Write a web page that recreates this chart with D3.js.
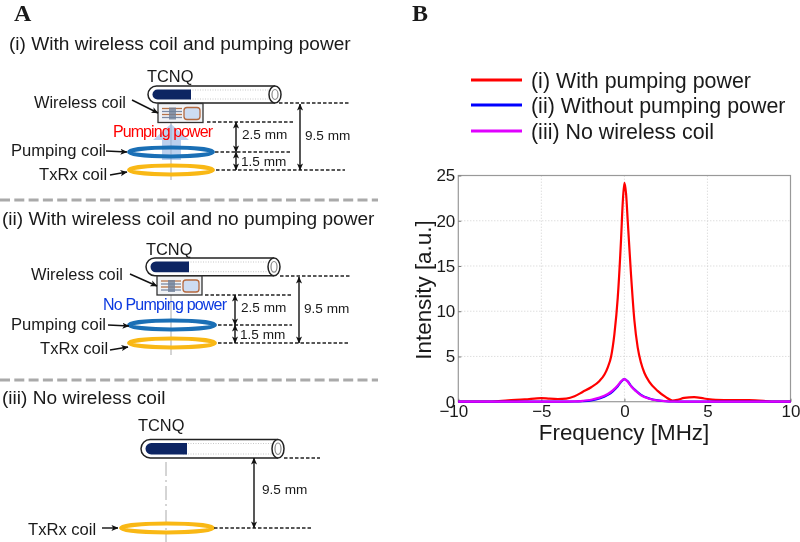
<!DOCTYPE html>
<html><head><meta charset="utf-8">
<script src="https://cdnjs.cloudflare.com/ajax/libs/d3/7.8.5/d3.min.js"></script>
<style>html,body{margin:0;background:#fff}svg{display:block;filter:blur(0.35px)}text{font-family:"Liberation Sans",Arial,sans-serif;fill:#1a1a1a}</style>
</head><body><svg id="c" width="800" height="542"></svg>
<script>
const xTicks=[-10,-5,0,5,10];
const yTicks=[0,5,10,15,20,25];
const redX=[-10,-8,-7,-6,-5,-4.5,-4,-3.5,-3,-2.5,-2,-1.5,-1.2,-1,-0.8,-0.6,-0.4,-0.2,-0.1,0,0.1,0.2,0.4,0.6,0.8,1,1.2,1.5,2,2.5,2.9,3.2,3.6,4.2,4.8,5.5,6.5,7.5,8.5,9,10];
const redY=[0,0.02,0.15,0.25,0.4,0.33,0.3,0.35,0.6,1.1,1.6,2.3,3,3.8,5,7.5,11.5,18,22,24.2,23,20,14,9,6,4.3,3.2,2.2,1.2,0.5,0.12,0.2,0.42,0.5,0.35,0.2,0.18,0.18,0.08,0,0];
const lowX=[-10,-4,-3,-2.5,-2,-1.5,-1,-0.7,-0.4,-0.2,0,0.2,0.4,0.7,1,1.5,2,2.5,3,4,10];
const blueY=[0,0,0.02,0.06,0.15,0.35,0.75,1.15,1.7,2.2,2.5,2.25,1.75,1.2,0.75,0.35,0.15,0.05,0.02,0,0];
const magY=[0,0,0.03,0.1,0.22,0.45,0.85,1.25,1.8,2.25,2.5,2.2,1.7,1.15,0.7,0.32,0.13,0.05,0.02,0,0];
const legendLabels=["(i) With pumping power","(ii) Without pumping power","(iii) No wireless coil"];
const legendColors=["#ff0000","#0000ff","#e000ff"];
const svg=d3.select("#c");
function T(x,y,s,size,o={}){const t=svg.append("text").attr("x",x).attr("y",y).attr("font-size",size).text(s);
 for(const k in o)t.attr(k,o[k]);return t;}
function L(x1,y1,x2,y2,c="#222",w=1.3,d=null){return svg.append("line").attr("x1",x1).attr("y1",y1).attr("x2",x2).attr("y2",y2).attr("stroke",c).attr("stroke-width",w).attr("stroke-dasharray",d);}
const defs=svg.append("defs");
defs.append("marker").attr("id","ah").attr("viewBox","0 0 8 8").attr("refX",7.5).attr("refY",4).attr("markerWidth",7).attr("markerHeight",7).attr("markerUnits","userSpaceOnUse").attr("orient","auto-start-reverse")
 .append("path").attr("d","M0,0.5L8,4L0,7.5L2,4Z").attr("fill","#111");
function Arrow(x1,y1,x2,y2,both){const l=L(x1,y1,x2,y2,"#111",1.4).attr("marker-end","url(#ah)");if(both)l.attr("marker-start","url(#ah)");return l;}
const DASH="3.5,2";
function tube(x0,x1,y0,y1,navyEnd){
 const r=(y1-y0)/2;
 svg.append("path").attr("d",`M${x1-6},${y0}L${x0+r},${y0}A${r},${r} 0 0 0 ${x0+r},${y1}L${x1-6},${y1}`).attr("fill","#fff").attr("stroke","#222").attr("stroke-width",1.5);
 L(x0+42,y0+4,x1-12,y0+4,"#bbb",.8,"1,1.5");L(x0+42,y1-4,x1-12,y1-4,"#bbb",.8,"1,1.5");
 svg.append("path").attr("d",`M${navyEnd},${y0+3.5}L${x0+r+1},${y0+3.5}A${r-3.5},${r-3.5} 0 0 0 ${x0+r+1},${y1-3.5}L${navyEnd},${y1-3.5}Z`).attr("fill","#0d2563");
 svg.append("ellipse").attr("cx",x1-6).attr("cy",(y0+y1)/2).attr("rx",6).attr("ry",r).attr("fill","#fff").attr("stroke","#222").attr("stroke-width",1.5);
 svg.append("ellipse").attr("cx",x1-6).attr("cy",(y0+y1)/2).attr("rx",3).attr("ry",r-3.5).attr("fill","#fff").attr("stroke","#888").attr("stroke-width",1.2);
}
function coil(cx,cy,rx,c,w=4){svg.append("ellipse").attr("cx",cx).attr("cy",cy).attr("rx",rx).attr("ry",4.4).attr("fill","none").attr("stroke",c).attr("stroke-width",w);}
function chip(x,y){
 svg.append("rect").attr("x",x).attr("y",y).attr("width",45).attr("height",19).attr("fill","#f1f3f6").attr("stroke","#333").attr("stroke-width",1.3);
 [5,8,11,14].forEach(d=>L(x+4,y+d,x+24,y+d,d%2?"#b5734a":"#7b8aa5",1.3));
 svg.append("rect").attr("x",x+11).attr("y",y+4).attr("width",7).attr("height",12).attr("fill","#6f7f99").attr("opacity",.8);
 svg.append("rect").attr("x",x+26).attr("y",y+4).attr("width",16).attr("height",12).attr("rx",3).attr("fill","#cddcf2").attr("stroke","#b5693f").attr("stroke-width",1.3);
}
T(14,21,"A",24,{style:"font-family:'Liberation Serif'","font-weight":"bold"});
T(412,21,"B",24,{style:"font-family:'Liberation Serif'","font-weight":"bold"});
const sep=[200,380];
sep.forEach(y=>L(0,y,378,y,"#aaa",3,"10,4.3"));
// panel (i)
T(9,50,"(i) With wireless coil and pumping power",19.1);
L(171,122,171,180,"#aaa",1);
svg.append("path").attr("d","M162,140L162,160L181,160L181,140L189,140L171,124L153,140Z").attr("fill","#8fb0e3").attr("opacity",.6);
tube(148,281,86,103,191);
chip(158,103.5);
T(147,82,"TCNQ",16.4);
T(34,108,"Wireless coil",16.4);
Arrow(132,100,158,113);
T(113,137,"Pumping power",16,{style:"fill:#ff0000",textLength:100});
coil(171,152,42,"#1a6fb5");coil(171,170,42,"#f9b815");
T(11,156,"Pumping coil",16.6);T(39,180,"TxRx coil",16.6);
Arrow(106,151,127,152);Arrow(110,175,127,172);
L(207,122,294,122,"#222",1.4,DASH);L(215,152,290,152,"#222",1.4,DASH);L(216,170,345,170,"#222",1.4,DASH);L(279,103,350,103,"#222",1.4,DASH);
Arrow(236,122,236,152,true);Arrow(236,152,236,170,true);Arrow(300,104,300,170,true);
T(242,139,"2.5 mm",13.6);T(241,166,"1.5 mm",13.6);T(305,140,"9.5 mm",13.6);
// panel (ii)
T(2,225,"(ii) With wireless coil and no pumping power",19.1);
L(171,295,171,355,"#aaa",1);
tube(146,280,258,275.7,189);
chip(157,276);
T(146,255,"TCNQ",16.4);
T(31,280,"Wireless coil",16.4);
Arrow(130,274,157,286);
T(103,310,"No Pumping power",16,{style:"fill:#0b39e0",textLength:124});
coil(172,325,43,"#1a6fb5");coil(172,343,43,"#f9b815");
T(11,330,"Pumping coil",16.6);T(40,354,"TxRx coil",16.6);
Arrow(108,325,129,326);Arrow(110,350,128,347);
L(205,295,293,295,"#222",1.4,DASH);L(218,325,292,325,"#222",1.4,DASH);L(218,343,350,343,"#222",1.4,DASH);L(280,276,350,276,"#222",1.4,DASH);
Arrow(235,295,235,325,true);Arrow(235,325,235,343,true);Arrow(299,277,299,343,true);
T(241,312,"2.5 mm",13.6);T(240,339,"1.5 mm",13.6);T(304,313,"9.5 mm",13.6);
// panel (iii)
T(2,404,"(iii) No wireless coil",19.1);
L(166,462,166,542,"#aaa",1,"14,4,2,4");
tube(141,284,439.5,458,187);
T(138,431,"TCNQ",16.4);
coil(167,528,46,"#f9b815");
T(28,535,"TxRx coil",16.6);
Arrow(102,528,118,528);
L(284,458,320,458,"#222",1.4,DASH);L(214,528,312,528,"#222",1.4,DASH);
Arrow(254,458,254,528,true);
T(262,494,"9.5 mm",13.6);
// chart
const x=d3.scaleLinear().domain([-10,10]).range([458.3,790.5]);
const y=d3.scaleLinear().domain([0,25]).range([401.7,175.5]);
const gGrid=svg.append("g");
xTicks.slice(1,-1).forEach(t=>gGrid.append("line").attr("x1",x(t)).attr("x2",x(t)).attr("y1",y(0)).attr("y2",y(25)).attr("stroke","#ccc").attr("stroke-width",.9).attr("stroke-dasharray","1,2"));
yTicks.slice(1,-1).forEach(t=>gGrid.append("line").attr("y1",y(t)).attr("y2",y(t)).attr("x1",x(-10)).attr("x2",x(10)).attr("stroke","#ccc").attr("stroke-width",.9).attr("stroke-dasharray","1,2"));
svg.append("rect").attr("x",x(-10)).attr("y",y(25)).attr("width",x(10)-x(-10)).attr("height",y(0)-y(25)).attr("fill","none").attr("stroke","#999").attr("stroke-width",1.2);
const ax=svg.append("g").attr("transform",`translate(0,${y(0)})`).call(d3.axisBottom(x).tickValues(xTicks).tickSize(-3).tickPadding(3).tickFormat(d=>d<0?"\u2212"+(-d):d));
const ay=svg.append("g").attr("transform",`translate(${x(-10)},0)`).call(d3.axisLeft(y).tickValues(yTicks).tickSize(-3).tickPadding(3));
[ax,ay].forEach(g=>{g.select(".domain").remove();g.selectAll("line").attr("stroke","#777");g.selectAll("text").attr("font-size",17).style("font-family","'Liberation Sans'").attr("fill","#1a1a1a");});
ax.selectAll("text").attr("dx",(d,i)=>i==0?-5:0);
T(624,440,"Frequency [MHz]",22.4,{"text-anchor":"middle"});
T(0,0,"Intensity [a.u.]",22.4,{"text-anchor":"middle",transform:"translate(431,290) rotate(-90)"});
const line=d3.line().x(d=>x(d[0])).y(d=>y(d[1])).curve(d3.curveMonotoneX);
[[redX,redY,0],[lowX,blueY,1],[lowX,magY,2]].forEach(([xs,ys,i])=>
 svg.append("path").attr("d",line(xs.map((v,j)=>[v,ys[j]]))).attr("fill","none").attr("stroke",legendColors[i]).attr("stroke-width",2.2));
const ly=[80,105,131],lty=[88,113,139];
legendLabels.forEach((s,i)=>{L(471,ly[i],522,ly[i],legendColors[i],3);T(531,lty[i],s,21.4);});
</script></body></html>
